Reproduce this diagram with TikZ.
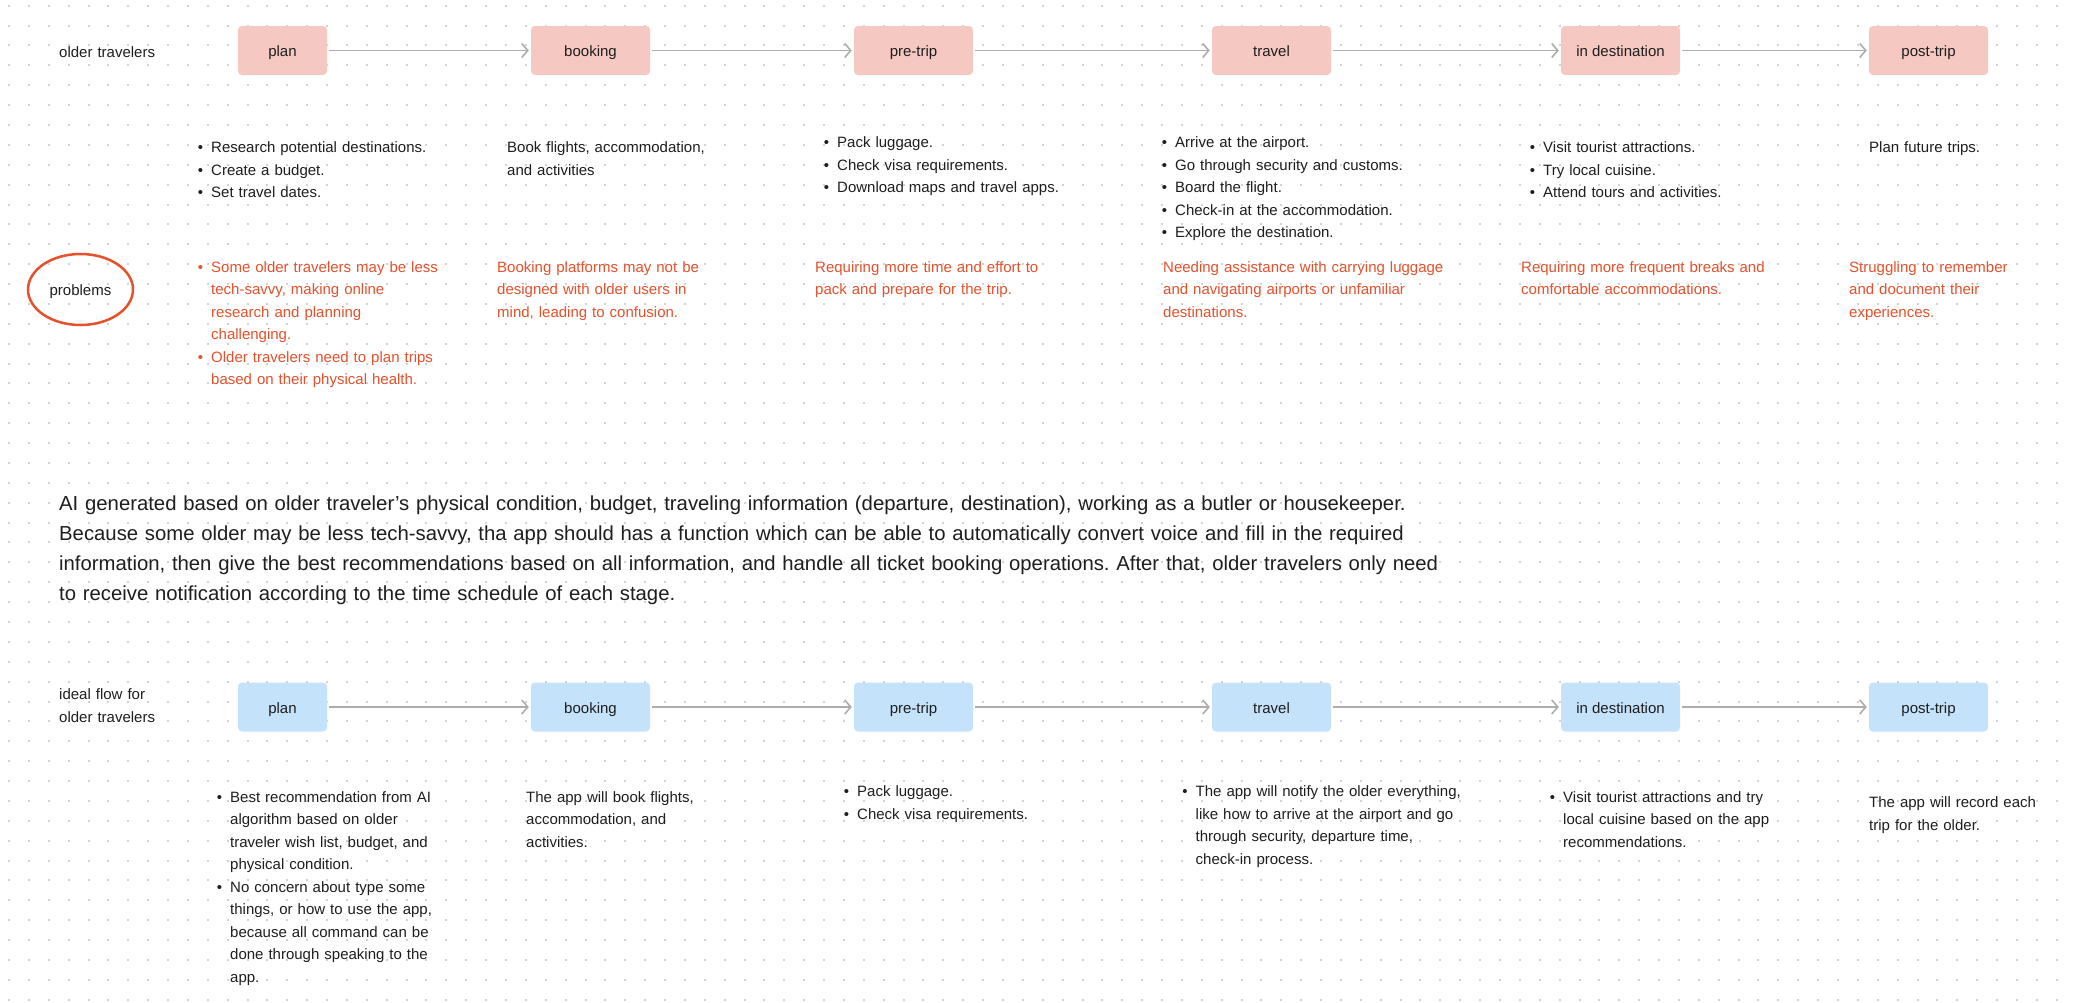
\documentclass[tikz,border=0pt]{standalone}
\usepackage{fontspec}
\setmainfont{Liberation Sans}
\usetikzlibrary{arrows.meta,shapes.geometric}
\definecolor{ink}{HTML}{1E1E1E}
\definecolor{pinkbox}{HTML}{F6C8C2}
\definecolor{bluebox}{HTML}{C4E2FA}
\definecolor{probred}{HTML}{E5512C}
\definecolor{arrgray}{HTML}{ADADAD}
\definecolor{dotgray}{HTML}{D2D2D2}
\newcommand{\bl}{\leavevmode\llap{•\hspace{8pt}}}
\frenchspacing
\begin{document}
\begin{tikzpicture}[x=1pt,y=-1pt,
  stagebox/.style={rectangle, rounded corners=4pt, minimum width=119pt, minimum height=49pt, inner sep=0pt, text=ink, font=\fontsize{15}{18}\selectfont, text height=12pt, text depth=0pt},
  pinkstage/.style={stagebox, fill=pinkbox},
  bluestage/.style={stagebox, fill=bluebox},
  flow/.style={arrgray, line width=1.6pt, -{Straight Barb[length=6pt,width=14pt]}, shorten <=2pt, shorten >=2pt},
  note/.style={anchor=base west, inner sep=0pt, text width=480pt, align=left, font=\fontsize{15}{22.5}\selectfont, text=ink},
  prob/.style={note, text=probred},
  para/.style={anchor=base west, inner sep=0pt, text width=1500pt, align=left, font=\fontsize{20.3}{30}\selectfont, text=ink}
]
\useasboundingbox (0,0) rectangle (2074,1002);
\fill[white] (0,0) rectangle (2074,1002);
\foreach \j in {0,...,50} {
  \draw[dotgray, line width=2pt, dash pattern=on 2pt off 17.88pt] (8,{5.7+19.88*\j}) -- (2074,{5.7+19.88*\j});
}

% ---------- top row ----------
\node[note] (lab1) at (59,57) {older travelers};
\node[pinkstage, minimum width=89pt] (p1) at (282.5,50.5) {plan};
\node[pinkstage] (p2) at (590.5,50.5) {booking};
\node[pinkstage] (p3) at (913.5,50.5) {pre-trip};
\node[pinkstage] (p4) at (1271.5,50.5) {travel};
\node[pinkstage] (p5) at (1620.5,50.5) {in destination};
\node[pinkstage] (p6) at (1928.5,50.5) {post-trip};
\draw[flow] (p1) -- (p2);
\draw[flow] (p2) -- (p3);
\draw[flow] (p3) -- (p4);
\draw[flow] (p4) -- (p5);
\draw[flow] (p5) -- (p6);

\node[note] (d1) at (211,152.5) {\bl Research potential destinations.\\ \bl Create a budget.\\ \bl Set travel dates.};
\node[note] (d2) at (507,152.5) {Book flights, accommodation,\\ and activities};
\node[note] (d3) at (837,147.5) {\bl Pack luggage.\\ \bl Check visa requirements.\\ \bl Download maps and travel apps.};
\node[note] (d4) at (1175,147.5) {\bl Arrive at the airport.\\ \bl Go through security and customs.\\ \bl Board the flight.\\ \bl Check-in at the accommodation.\\ \bl Explore the destination.};
\node[note] (d5) at (1543,152.5) {\bl Visit tourist attractions.\\ \bl Try local cuisine.\\ \bl Attend tours and activities.};
\node[note] (d6) at (1869,152.5) {Plan future trips.};

% ---------- problems ----------
\node[ellipse, draw=probred, line width=2.5pt, minimum width=105pt, minimum height=71pt, inner sep=0pt, text=ink, font=\fontsize{15}{18}\selectfont, text height=11pt, text depth=0pt] (prb) at (80.5,289.5) {problems};
\node[prob] (q1) at (211,272.2) {\bl Some older travelers may be less\\ tech-savvy, making online\\ research and planning\\ challenging.\\ \bl Older travelers need to plan trips\\ based on their physical health.};
\node[prob] (q2) at (497,272.2) {Booking platforms may not be\\ designed with older users in\\ mind, leading to confusion.};
\node[prob] (q3) at (815,272.2) {Requiring more time and effort to\\ pack and prepare for the trip.};
\node[prob] (q4) at (1163,272.2) {Needing assistance with carrying luggage\\ and navigating airports or unfamiliar\\ destinations.};
\node[prob] (q5) at (1521,272.2) {Requiring more frequent breaks and\\ comfortable accommodations.};
\node[prob] (q6) at (1849,272.2) {Struggling to remember\\ and document their\\ experiences.};

% ---------- paragraph ----------
\node[para] (ai) at (59,510) {AI generated based on older traveler’s physical condition, budget, traveling information (departure, destination), working as a butler or housekeeper.\\ Because some older may be less tech-savvy, tha app should has a function which can be able to automatically convert voice and fill in the required\\ information, then give the best recommendations based on all information, and handle all ticket booking operations. After that, older travelers only need\\ to receive notification according to the time schedule of each stage.};

% ---------- bottom row ----------
\node[note] (lab2) at (59,699.5) {ideal flow for\\ older travelers};
\node[bluestage, minimum width=89pt] (b1) at (282.5,707) {plan};
\node[bluestage] (b2) at (590.5,707) {booking};
\node[bluestage] (b3) at (913.5,707) {pre-trip};
\node[bluestage] (b4) at (1271.5,707) {travel};
\node[bluestage] (b5) at (1620.5,707) {in destination};
\node[bluestage] (b6) at (1928.5,707) {post-trip};
\draw[flow] (b1) -- (b2);
\draw[flow] (b2) -- (b3);
\draw[flow] (b3) -- (b4);
\draw[flow] (b4) -- (b5);
\draw[flow] (b5) -- (b6);

\node[note] (e1) at (230,802.2) {\bl Best recommendation from AI\\ algorithm based on older\\ traveler wish list, budget, and\\ physical condition.\\ \bl No concern about type some\\ things, or how to use the app,\\ because all command can be\\ done through speaking to the\\ app.};
\node[note] (e2) at (526,802.2) {The app will book flights,\\ accommodation, and\\ activities.};
\node[note] (e3) at (857,796.5) {\bl Pack luggage.\\ \bl Check visa requirements.};
\node[note] (e4) at (1195.5,796.5) {\bl The app will notify the older everything,\\ like how to arrive at the airport and go\\ through security, departure time,\\ check-in process.};
\node[note] (e5) at (1563,802.2) {\bl Visit tourist attractions and try\\ local cuisine based on the app\\ recommendations.};
\node[note] (e6) at (1869,807.8) {The app will record each\\ trip for the older.};
\end{tikzpicture}
\end{document}
